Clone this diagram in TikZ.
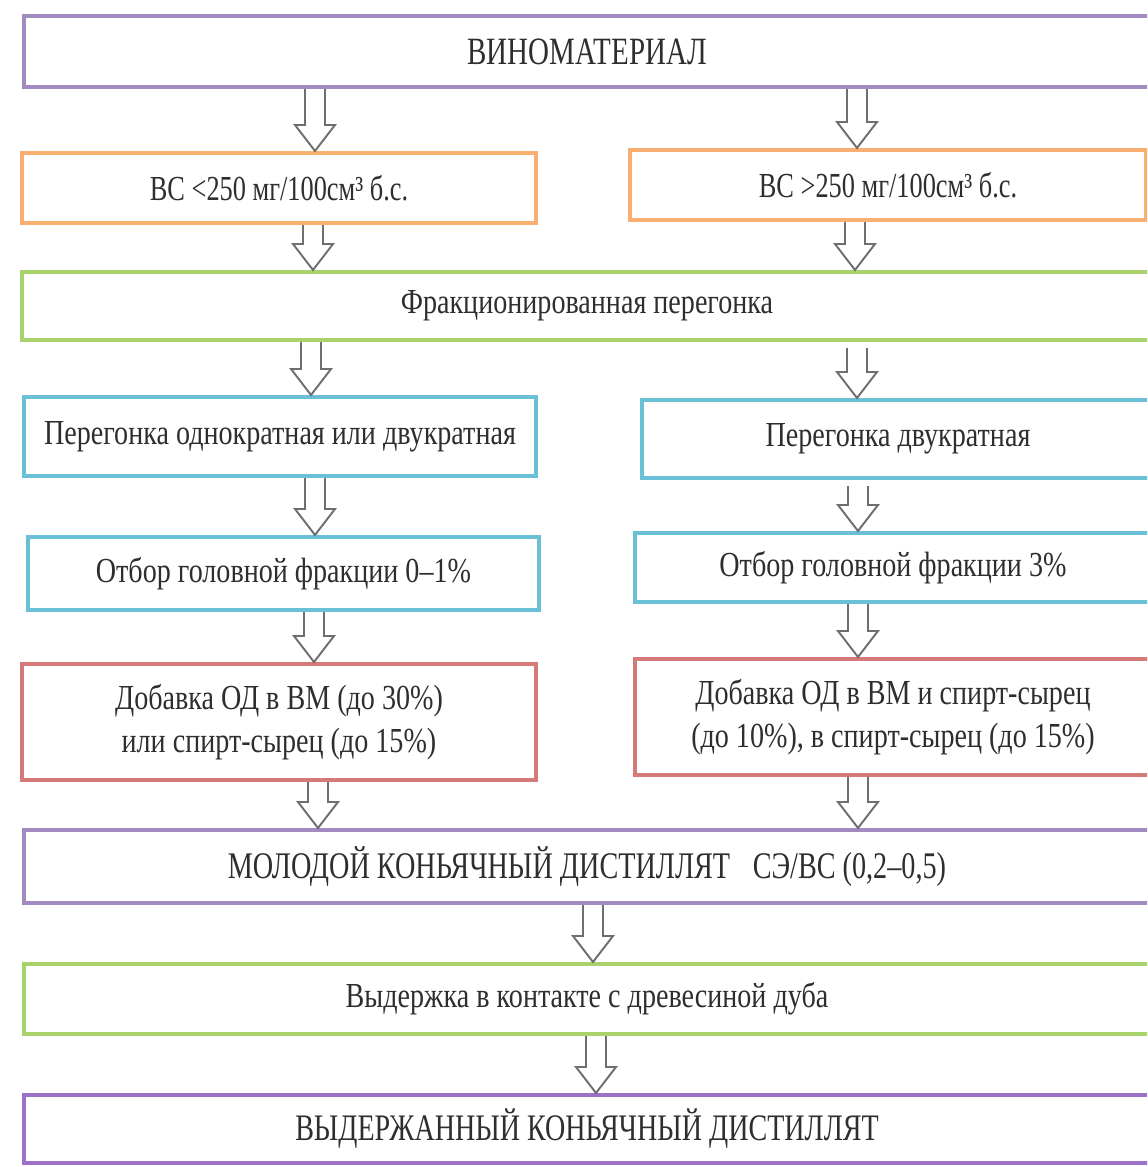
\documentclass[tikz,border=0pt]{standalone}
\usepackage{fontspec}
\setmainfont{Liberation Serif}[FakeStretch=0.75]
\newfontfamily\stagefont{Liberation Serif}[FakeStretch=0.8]
\usetikzlibrary{calc}
\definecolor{vmpurple}{HTML}{A28BC1}
\definecolor{finpurple}{HTML}{9C72C8}
\definecolor{vsorange}{HTML}{F9AF72}
\definecolor{frgreen}{HTML}{A8D26C}
\definecolor{pgblue}{HTML}{6BBFD6}
\definecolor{odred}{HTML}{D47B79}
\definecolor{arrgray}{HTML}{6E6E6E}
\definecolor{txtgray}{HTML}{2E2E2E}
\begin{document}
\begin{tikzpicture}[x=0.02cm,y=-0.02cm,
    stage/.style={draw,rectangle,line width=2.3pt,inner sep=0pt,text=txtgray,align=center,
      font=\stagefont\fontsize{20}{24.4}\selectfont},
    big/.style={font=\rmfamily\fontsize{#1}{26}\selectfont},
    narrow/.style={font=\rmfamily\fontsize{20}{24.4}\selectfont},
    size/.style 2 args={minimum width=#1*0.02cm,minimum height=#2*0.02cm},
    fat/.style={draw=arrgray,line width=1.1pt,line join=miter,
      to path={($(\tikztostart)+(-10,0)$) -- ($(\tikztotarget)+(-10,-26)$) -- ++(-10,0)
        -- (\tikztotarget) -- ++(20,-26) -- ++(-10,0) -- ($(\tikztostart)+(10,0)$)}}]

  \path[use as bounding box,clip] (0,0) rectangle (1147,1167);

  \begin{scope}[every node/.style={stage}]
    \node[big=22,draw=vmpurple,size={1126}{71}] (1) at (587,51.5) {ВИНОМАТЕРИАЛ};
    \node[narrow,draw=vsorange,size={514}{70}] (2) at (279,188) {ВС <250 мг/100см³ б.с.};
    \node[narrow,draw=vsorange,size={516}{70}] (3) at (888,185) {ВС >250 мг/100см³ б.с.};
    \node[draw=frgreen,size={1130}{68}] (4) at (587,306) {Фракционированная перегонка};
    \node[draw=pgblue,size={512}{79}] (5) at (280,436.5) {Перегонка однократная или двукратная};
    \node[draw=pgblue,size={512}{78}] (6) at (898,439) {Перегонка двукратная};
    \node[draw=pgblue,size={511}{73}] (7) at (283.5,573.5) {Отбор головной фракции 0–1\%};
    \node[draw=pgblue,size={516}{69}] (8) at (893,567.5) {Отбор головной фракции 3\%};
    \node[draw=odred,size={514}{116}] (9) at (279,722) {Добавка ОД в ВМ (до 30\%)\\или спирт-сырец (до 15\%)};
    \node[draw=odred,size={516}{116}] (10) at (893,717) {Добавка ОД в ВМ и спирт-сырец\\(до 10\%), в спирт-сырец (до 15\%)};
    \node[big=21.4,draw=vmpurple,size={1126}{73}] (11) at (587,866.5) {МОЛОДОЙ КОНЬЯЧНЫЙ ДИСТИЛЛЯТ\hspace{0.6em}СЭ/ВС (0,2–0,5)};
    \node[draw=frgreen,size={1126}{70}] (12) at (587,999) {Выдержка в контакте с древесиной дуба};
    \node[big=21.3,draw=finpurple,size={1126}{68}] (13) at (587,1129) {ВЫДЕРЖАННЫЙ КОНЬЯЧНЫЙ ДИСТИЛЛЯТ};
  \end{scope}

  \path (1.south -| 315,0) edge[fat] (2.north -| 315,0);
  \path (1.south -| 857,0) edge[fat] (3.north -| 857,0);
  \path (2.south -| 313,0) edge[fat] (4.north -| 313,0);
  \path (3.south -| 855,0) edge[fat] (4.north -| 855,0);
  \path (4.south -| 311,0) edge[fat] (5.north -| 311,0);
  \path ($(4.south -| 857,0)+(0,6)$) edge[fat] (6.north -| 857,0);
  \path (5.south -| 315,0) edge[fat] (7.north -| 315,0);
  \path ($(6.south -| 858,0)+(0,6)$) edge[fat] (8.north -| 858,0);
  \path (7.south -| 314,0) edge[fat] (9.north -| 314,0);
  \path (8.south -| 858,0) edge[fat] (10.north -| 858,0);
  \path (9.south -| 318,0) edge[fat] (11.north -| 318,0);
  \path (10.south -| 858,0) edge[fat] (11.north -| 858,0);
  \path (11.south -| 593,0) edge[fat] (12.north -| 593,0);
  \path (12.south -| 596,0) edge[fat] (13.north -| 596,0);

\end{tikzpicture}
\end{document}
